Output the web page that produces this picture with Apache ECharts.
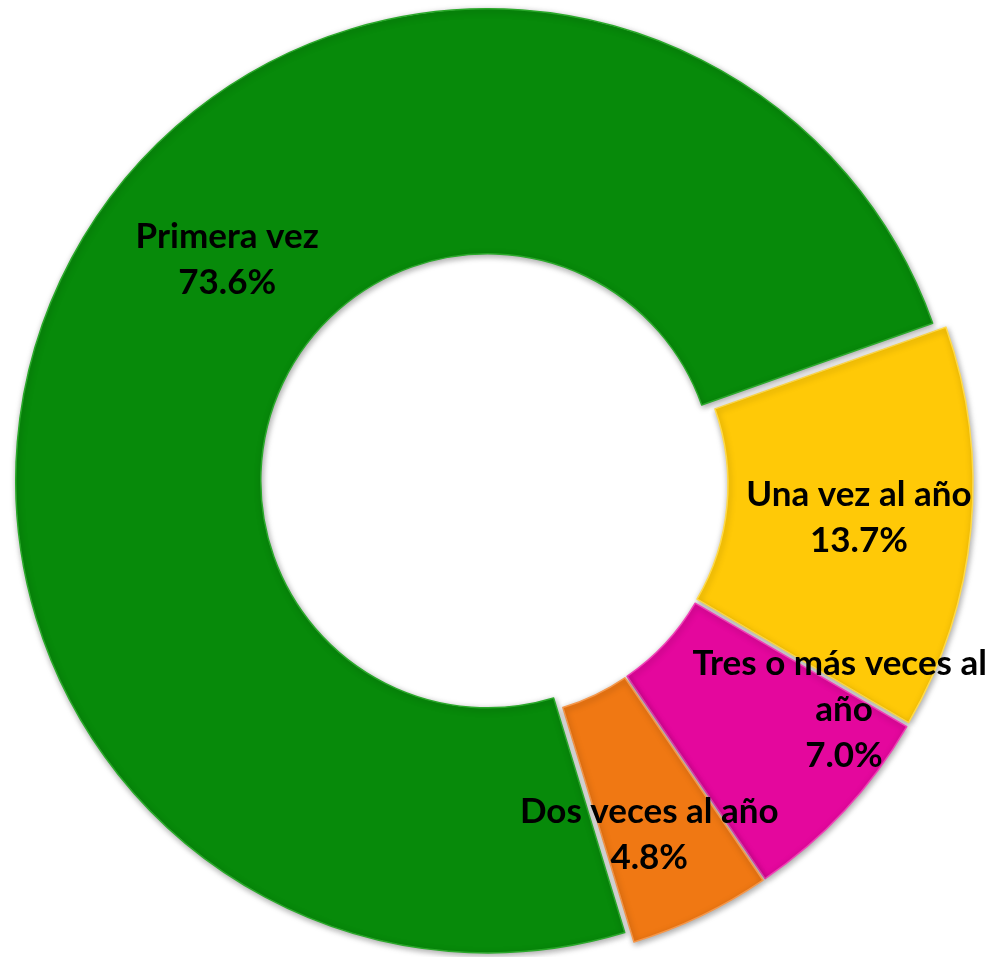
<!DOCTYPE html>
<html>
<head>
<meta charset="utf-8">
<title>Frecuencia</title>
<script src="https://cdn.jsdelivr.net/npm/echarts@6/dist/echarts.min.js"></script>
<style>
  html, body { margin: 0; padding: 0; background: #fff; }
  #pie { width: 1001px; height: 957px; }
</style>
</head>
<body>
<div id="pie"></div>
<script>
  // categorias en el orden en que se dibujan (sentido horario)
  const categories = ['Una vez al año', 'Tres o más veces al año', 'Dos veces al año', 'Primera vez'];
  const values = [13.7, 7.0, 4.8, 73.6];
  const colors = ['#FFC907', '#E4079D', '#F07813', '#078A0A'];
  const rimColors = ['#FFDA4A', '#F040B6', '#F5974A', '#2AA82A'];
  // ajuste de la posicion de las etiquetas (px)
  const labelOffsets = [[7, 0], [87, -19], [0, 26], [54, -62]];

  let chart = echarts.init(document.getElementById('pie'));

  let seriesData = categories.map((name, i) => {
    return {
      name: name,
      value: values[i],
      selected: true,
      itemStyle: { color: colors[i], borderColor: rimColors[i] }
    };
  });

  let option = {
    animation: false,
    series: [
      {
        type: 'pie',
        center: [494, 484],
        radius: [227, 472],
        startAngle: 19.5,
        clockwise: true,
        selectedMode: 'multiple',
        selectedOffset: 7,
        silent: true,
        avoidLabelOverlap: false,
        itemStyle: {
          borderWidth: 1.5,
          shadowBlur: 6,
          shadowColor: 'rgba(0, 0, 0, 0.35)',
          shadowOffsetX: 1,
          shadowOffsetY: 2
        },
        label: {
          show: true,
          position: 'inside',
          color: '#000',
          fontFamily: 'Lato',
          fontWeight: 'bold',
          fontSize: 35,
          lineHeight: 46,
          width: 345,
          overflow: 'break',
          align: 'center',
          formatter: p => p.name + '\n' + p.value.toFixed(1) + '%'
        },
        labelLayout: p => ({ dx: labelOffsets[p.dataIndex][0], dy: labelOffsets[p.dataIndex][1] }),
        labelLine: { show: false },
        data: seriesData
      }
    ]
  };

  chart.setOption(option);
</script>
</body>
</html>
